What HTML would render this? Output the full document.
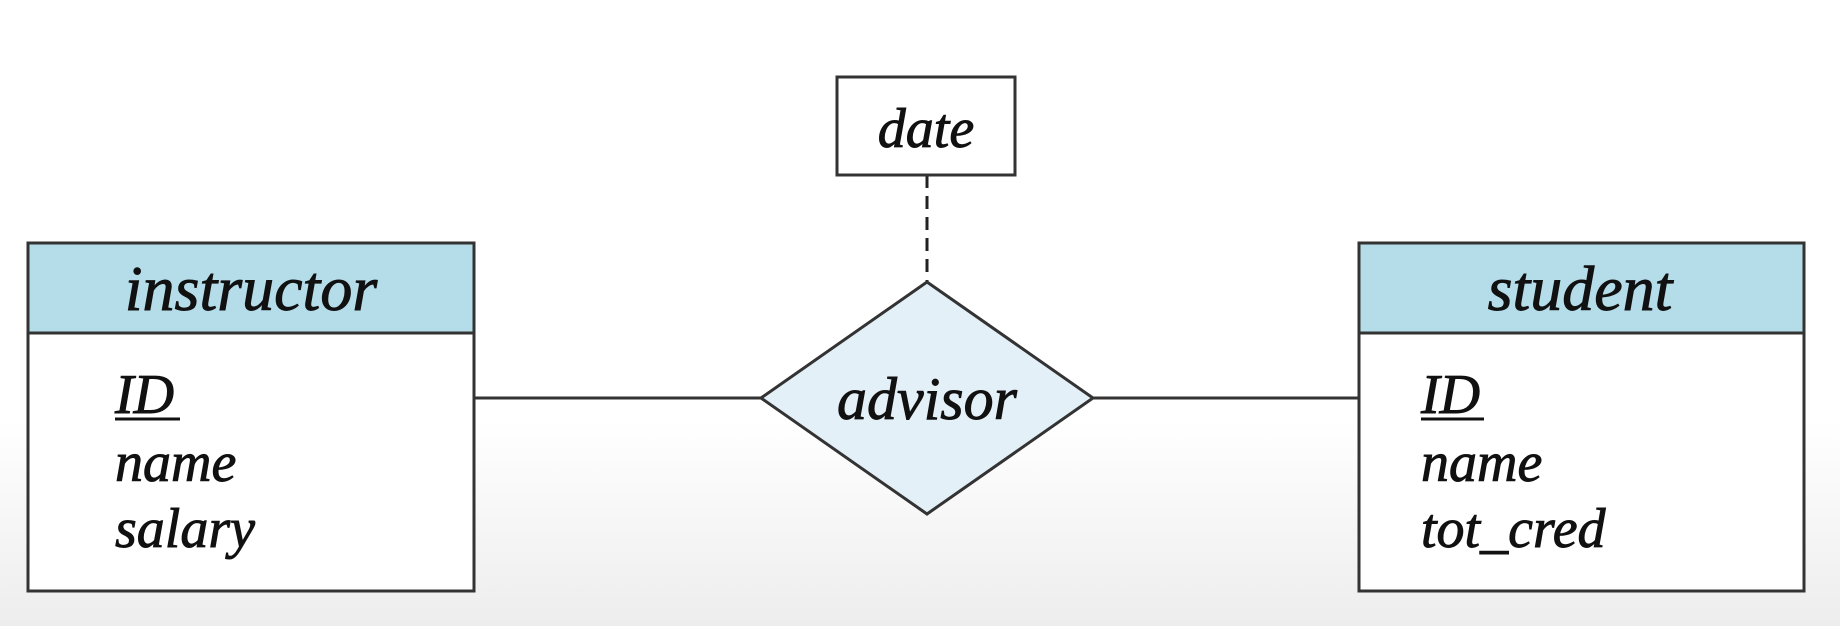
<!DOCTYPE html>
<html><head><style>
html,body{margin:0;padding:0;}
body{width:1840px;height:626px;overflow:hidden;background:linear-gradient(#fff 0,#fff 420px,#ededed 626px);}
svg text{font-family:"Liberation Serif",serif;font-style:italic;fill:#111;stroke:#111;stroke-width:0.9px;}
</style></head><body>
<svg width="1840" height="626" xmlns="http://www.w3.org/2000/svg">
<!-- instructor -->
<rect x="28" y="243" width="446" height="348" fill="#fff" stroke="#333" stroke-width="3"/>
<rect x="28" y="243" width="446" height="90" fill="#b5dde9" stroke="#333" stroke-width="3"/>
<text x="251" y="310" font-size="64" text-anchor="middle">instructor</text>
<text x="115" y="413" font-size="56">ID</text>
<line x1="115" y1="419" x2="180" y2="419" stroke="#111" stroke-width="3"/>
<text x="115" y="481" font-size="56">name</text>
<text x="115" y="547" font-size="56">salary</text>
<!-- student -->
<rect x="1359" y="243" width="445" height="348" fill="#fff" stroke="#333" stroke-width="3"/>
<rect x="1359" y="243" width="445" height="90" fill="#b5dde9" stroke="#333" stroke-width="3"/>
<text x="1580" y="310" font-size="64" text-anchor="middle">student</text>
<text x="1421" y="413" font-size="56">ID</text>
<line x1="1421" y1="419" x2="1484" y2="419" stroke="#111" stroke-width="3"/>
<text x="1421" y="481" font-size="56">name</text>
<text x="1421" y="547" font-size="56">tot_cred</text>
<!-- lines -->
<line x1="474" y1="398" x2="761" y2="398" stroke="#333" stroke-width="3"/>
<line x1="1093" y1="398" x2="1359" y2="398" stroke="#333" stroke-width="3"/>
<line x1="927" y1="175" x2="927" y2="282" stroke="#222" stroke-width="3" stroke-dasharray="13,8"/>
<!-- diamond -->
<polygon points="927,282 1093,398 927,514 761,398" fill="#e4f0f8" stroke="#333" stroke-width="3"/>
<text x="927" y="419" font-size="60" text-anchor="middle">advisor</text>
<!-- date -->
<rect x="837" y="77" width="178" height="98" fill="#fff" stroke="#333" stroke-width="3"/>
<text x="926" y="147" font-size="56" text-anchor="middle">date</text>
</svg>
</body></html>
